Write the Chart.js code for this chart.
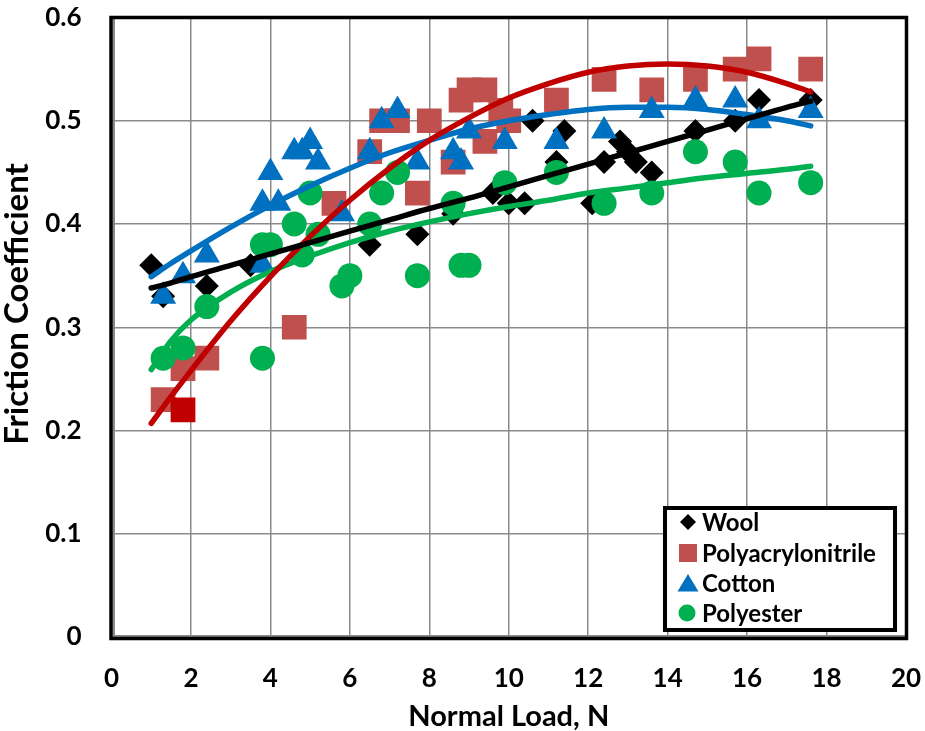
<!DOCTYPE html>
<html><head><meta charset="utf-8">
<script src="https://cdn.jsdelivr.net/npm/chart.js@4.4.0/dist/chart.umd.min.js"></script>
<style>html,body{margin:0;padding:0;background:#fff}canvas{display:block}</style>
</head><body>
<canvas id="c" width="925" height="731"></canvas>
<script>
// ---- data ----
const woolX = [1.0, 1.3, 2.4, 3.5, 6.5, 7.7, 8.6, 9.6, 10.0, 10.4, 10.6, 11.2, 11.4, 12.1, 12.4, 12.8, 13.0, 13.2, 13.6, 14.7, 15.7, 16.3, 17.6];
const woolY = [0.36, 0.33, 0.34, 0.36, 0.38, 0.39, 0.41, 0.43, 0.42, 0.42, 0.50, 0.46, 0.49, 0.42, 0.46, 0.48, 0.47, 0.46, 0.45, 0.49, 0.50, 0.52, 0.52];

const panX = [1.3, 1.8, 1.8, 2.4, 4.6, 5.6, 6.5, 6.8, 7.2, 7.7, 8.0, 8.6, 8.8, 9.0, 9.4, 9.4, 9.8, 10.0, 11.2, 12.4, 13.6, 14.7, 15.7, 16.3, 17.6];
const panY = [0.23, 0.22, 0.26, 0.27, 0.30, 0.42, 0.47, 0.50, 0.50, 0.43, 0.50, 0.46, 0.52, 0.53, 0.53, 0.48, 0.51, 0.50, 0.52, 0.54, 0.53, 0.54, 0.55, 0.56, 0.55];

const cottonX = [1.3, 1.8, 2.4, 3.8, 3.8, 4.0, 4.2, 4.6, 4.8, 5.0, 5.2, 5.8, 6.5, 6.8, 7.2, 7.7, 8.6, 8.8, 9.0, 9.9, 11.2, 12.4, 13.6, 14.7, 15.7, 16.3, 17.6];
const cottonY = [0.33, 0.35, 0.37, 0.36, 0.42, 0.45, 0.42, 0.47, 0.47, 0.48, 0.46, 0.41, 0.47, 0.50, 0.51, 0.46, 0.47, 0.46, 0.49, 0.48, 0.48, 0.49, 0.51, 0.52, 0.52, 0.50, 0.51];

const polyX = [1.3, 1.8, 2.4, 3.8, 3.8, 4.0, 4.6, 4.8, 5.0, 5.2, 5.8, 6.0, 6.5, 6.8, 7.2, 7.7, 8.6, 8.8, 9.0, 9.9, 11.2, 12.4, 13.6, 14.7, 15.7, 16.3, 17.6];
const polyY = [0.27, 0.28, 0.32, 0.27, 0.38, 0.38, 0.40, 0.37, 0.43, 0.39, 0.34, 0.35, 0.40, 0.43, 0.45, 0.35, 0.42, 0.36, 0.36, 0.44, 0.45, 0.42, 0.43, 0.47, 0.46, 0.43, 0.44];

// trend line readings along each fitted curve
const trendX      = [1, 1.5, 2, 3, 4, 5, 6, 7, 8, 9, 10, 11, 12, 13, 14, 15, 16, 17, 17.6];
const woolTrend   = [0.338, 0.343, 0.349, 0.360, 0.371, 0.382, 0.393, 0.404, 0.415, 0.425, 0.436, 0.447, 0.458, 0.469, 0.480, 0.491, 0.502, 0.513, 0.519];
const panTrend    = [0.207, 0.233, 0.258, 0.306, 0.349, 0.388, 0.423, 0.454, 0.481, 0.503, 0.522, 0.536, 0.547, 0.553, 0.555, 0.553, 0.547, 0.536, 0.528];
const cottonTrend = [0.349, 0.362, 0.374, 0.397, 0.418, 0.437, 0.454, 0.469, 0.481, 0.492, 0.500, 0.506, 0.511, 0.513, 0.513, 0.511, 0.506, 0.500, 0.495];
const polyTrend   = [0.259, 0.287, 0.307, 0.334, 0.354, 0.369, 0.382, 0.393, 0.402, 0.410, 0.417, 0.423, 0.430, 0.435, 0.440, 0.445, 0.449, 0.453, 0.456];

const xTicks = [0, 2, 4, 6, 8, 10, 12, 14, 16, 18, 20];
const yTicks = [0, 0.1, 0.2, 0.3, 0.4, 0.5, 0.6];
const seriesNames = ['Wool', 'Polyacrylonitrile', 'Cotton', 'Polyester'];
const xTitle = 'Normal Load, N';
const yTitle = 'Friction Coefficient';

// ---- build ----
const pts = (xs, ys) => xs.map((x, i) => ({x, y: ys[i]}));
const FONT = "Lato, 'Open Sans', sans-serif";
const C = {wool:'#000000', pan:'#C0504D', panLine:'#C00000', cotton:'#0070C0', poly:'#00B050'};

function trend(data, color) {
  return {type:'line', data, borderColor:color, borderWidth:5.5, pointRadius:0, pointHoverRadius:0,
    showLine:true, fill:false, cubicInterpolationMode:'monotone', borderCapStyle:'round', order:0};
}

const decor = {
  id: 'decor',
  afterDraw(chart) {
    const ctx = chart.ctx, a = chart.chartArea;
    ctx.save();
    // plot border
    ctx.strokeStyle = '#8a8a8a'; ctx.lineWidth = 2;
    ctx.beginPath();
    ctx.moveTo(a.left + 2.5, a.top); ctx.lineTo(a.left + 2.5, a.bottom - 1);
    ctx.lineTo(a.right, a.bottom - 1);
    ctx.stroke();
    ctx.strokeStyle = '#000'; ctx.lineWidth = 3.5;
    ctx.strokeRect(a.left - 0.5, a.top, a.right - a.left + 1, a.bottom - a.top + 1.5);

    // y title
    ctx.fillStyle = '#000';
    ctx.font = "bold 33px " + FONT;
    ctx.textAlign = 'center'; ctx.textBaseline = 'middle';
    ctx.save();
    ctx.translate(17, 304); ctx.rotate(-Math.PI / 2);
    ctx.fillText(yTitle, 0, 0);
    ctx.restore();
    // x title
    ctx.font = "bold 29px " + FONT;
    ctx.textBaseline = 'alphabetic';
    ctx.fillText(xTitle, (a.left + a.right) / 2, 726);

    // legend
    const L = {x: 663, y: 506, w: 234, h: 126};
    ctx.fillStyle = '#fff';
    ctx.fillRect(L.x, L.y, L.w, L.h);
    ctx.strokeStyle = '#000'; ctx.lineWidth = 4;
    ctx.strokeRect(L.x + 2, L.y + 2, L.w - 4, L.h - 4);
    const rows = [522, 553, 583, 613];
    const mx = 688;
    ctx.fillStyle = C.wool;
    ctx.beginPath();
    ctx.moveTo(mx, rows[0] - 8); ctx.lineTo(mx + 8, rows[0]); ctx.lineTo(mx, rows[0] + 8); ctx.lineTo(mx - 8, rows[0]);
    ctx.closePath(); ctx.fill();
    ctx.fillStyle = C.pan;
    ctx.fillRect(mx - 9, rows[1] - 9, 18, 18);
    ctx.fillStyle = C.cotton;
    ctx.beginPath();
    ctx.moveTo(mx, rows[2] - 9); ctx.lineTo(mx + 10.5, rows[2] + 8.5); ctx.lineTo(mx - 10.5, rows[2] + 8.5);
    ctx.closePath(); ctx.fill();
    ctx.fillStyle = C.poly;
    ctx.beginPath(); ctx.arc(mx - 1, rows[3], 8.5, 0, Math.PI * 2); ctx.fill();
    ctx.fillStyle = '#000';
    ctx.font = "bold 24px " + FONT;
    ctx.textAlign = 'left'; ctx.textBaseline = 'middle';
    seriesNames.forEach((n, i) => ctx.fillText(n, 702, rows[i] + 1));
    ctx.restore();
  }
};

const tickFont = {family: FONT, weight: 'bold', size: 26, lineHeight: 1};
const noPad = (s) => { s.paddingTop = 0; s.paddingBottom = 0; s.paddingLeft = 0; s.paddingRight = 0; };

new Chart(document.getElementById('c'), {
  type: 'scatter',
  data: {
    datasets: [
      trend(pts(trendX, woolTrend), C.wool),
      trend(pts(trendX, panTrend), C.panLine),
      trend(pts(trendX, cottonTrend), C.cotton),
      trend(pts(trendX, polyTrend), C.poly),
      {label: seriesNames[0], data: pts(woolX, woolY), pointStyle: 'rectRot', pointRadius: 12,
        backgroundColor: C.wool, borderColor: C.wool, borderWidth: 0, order: 4},
      {label: seriesNames[1], data: pts(panX, panY), pointStyle: 'rect', pointRadius: 17.5,
        backgroundColor: (c) => c.dataIndex === 1 ? '#C00000' : C.pan, borderWidth: 0, order: 3},
      {label: seriesNames[2], data: pts(cottonX, cottonY), pointStyle: 'triangle', pointRadius: 15,
        backgroundColor: C.cotton, borderWidth: 0, order: 2},
      {label: seriesNames[3], data: pts(polyX, polyY), pointStyle: 'circle', pointRadius: 12.5,
        backgroundColor: C.poly, borderWidth: 0, order: 1}
    ]
  },
  options: {
    responsive: false, animation: false, devicePixelRatio: 1,
    layout: {padding: {top: 14, right: 19, bottom: 0, left: 0}},
    plugins: {legend: {display: false}, tooltip: {enabled: false}},
    events: [],
    scales: {
      x: {
        type: 'linear', min: 0, max: 20,
        afterBuildTicks: (s) => { s.ticks = xTicks.map(v => ({value: v})); },
        afterFit: (s) => { s.height = 94; noPad(s); },
        ticks: {font: tickFont, color: '#000', padding: 29, maxRotation: 0},
        grid: {color: '#8a8a8a', lineWidth: 1.5, drawTicks: false},
        border: {display: false}
      },
      y: {
        type: 'linear', min: 0, max: 0.6,
        afterBuildTicks: (s) => { s.ticks = yTicks.map(v => ({value: v})); },
        afterFit: (s) => { s.width = 111.5; noPad(s); },
        ticks: {font: tickFont, color: '#000', padding: 30,
          callback: (v) => v === 0 ? '0' : v.toFixed(1)},
        grid: {color: '#8a8a8a', lineWidth: 1.5, drawTicks: false},
        border: {display: false}
      }
    }
  },
  plugins: [decor]
});
</script>
</body></html>
